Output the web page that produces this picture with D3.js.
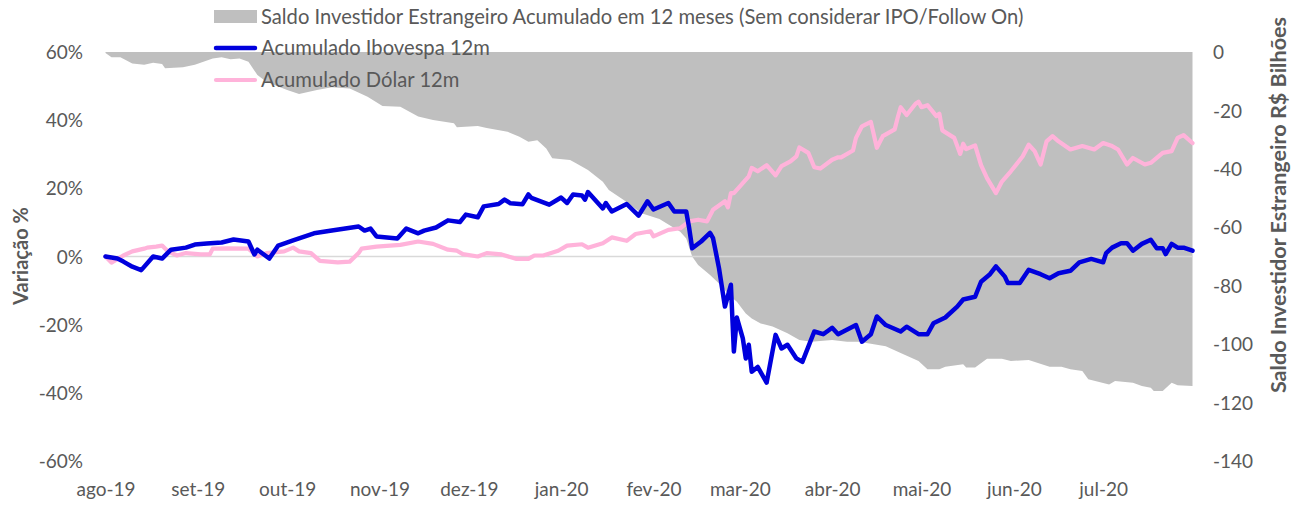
<!DOCTYPE html>
<html><head><meta charset="utf-8">
<script src="https://cdn.jsdelivr.net/npm/d3@7"></script>
<style>
body{margin:0;background:#fff}
svg{display:block}
text{font-family:Lato,'Open Sans',sans-serif;fill:#595959}
</style>
</head><body><svg id="c" width="1302" height="506"></svg>
<script>
// ---------- DATA ----------
const monthLabels = ["ago-19","set-19","out-19","nov-19","dez-19","jan-20","fev-20","mar-20","abr-20","mai-20","jun-20","jul-20"];
const monthDates = ["2019-08-01","2019-09-01","2019-10-01","2019-11-01","2019-12-01","2020-01-01","2020-02-01","2020-03-01","2020-04-01","2020-05-01","2020-06-01","2020-07-01"];
const leftTicks = [60,40,20,0,-20,-40,-60];
const rightTicks = [0,-20,-40,-60,-80,-100,-120,-140];

const seriesNames = ["Saldo Investidor Estrangeiro Acumulado em 12 meses (Sem considerar IPO/Follow On)","Acumulado Ibovespa 12m","Acumulado Dólar 12m"];

const ibovDates = ["2019-08-01","2019-08-05","2019-08-07","2019-08-10","2019-08-13","2019-08-17","2019-08-20","2019-08-23","2019-08-28","2019-08-31",
"2019-09-04","2019-09-09","2019-09-13","2019-09-18","2019-09-20","2019-09-21","2019-09-25","2019-09-28","2019-10-03","2019-10-10",
"2019-10-16","2019-10-25","2019-10-27","2019-10-29","2019-10-31","2019-11-07","2019-11-10","2019-11-14","2019-11-16","2019-11-20",
"2019-11-24","2019-11-28","2019-11-30","2019-12-04","2019-12-06","2019-12-11","2019-12-13","2019-12-15","2019-12-19","2019-12-21",
"2019-12-22","2019-12-28","2020-01-01","2020-01-03","2020-01-05","2020-01-08","2020-01-09","2020-01-10","2020-01-15","2020-01-16",
"2020-01-18","2020-01-23","2020-01-27","2020-01-30","2020-02-01","2020-02-06","2020-02-08","2020-02-12","2020-02-13","2020-02-14",
"2020-02-17","2020-02-20","2020-02-21","2020-02-23","2020-02-25","2020-02-27","2020-02-28","2020-02-29","2020-03-02","2020-03-03",
"2020-03-04","2020-03-05","2020-03-07","2020-03-10","2020-03-13","2020-03-15","2020-03-17","2020-03-20","2020-03-22","2020-03-26",
"2020-03-29","2020-04-01","2020-04-03","2020-04-09","2020-04-11","2020-04-14","2020-04-16","2020-04-19","2020-04-24","2020-04-26",
"2020-04-30","2020-05-03","2020-05-05","2020-05-09","2020-05-13","2020-05-15","2020-05-19","2020-05-21","2020-05-24","2020-05-26",
"2020-05-29","2020-05-30","2020-06-03","2020-06-06","2020-06-10","2020-06-13","2020-06-16","2020-06-20","2020-06-23","2020-06-25",
"2020-06-27","2020-07-01","2020-07-02","2020-07-04","2020-07-07","2020-07-09","2020-07-11","2020-07-14","2020-07-17","2020-07-19",
"2020-07-21","2020-07-22","2020-07-24","2020-07-26","2020-07-28","2020-07-31"];
const ibovValues = [0,-0.6,-1.5,-3,-4,0,-0.6,2,2.6,3.5,
3.8,4.1,5,4.4,0.6,2,-0.6,3.2,4.7,6.8,
7.6,8.8,7.6,8.2,5.9,5.3,8.2,6.8,7.6,8.5,
10.6,10.1,12.3,11.5,14.7,15.4,16.7,15.6,15.3,18.2,
17.2,15.2,17.3,15.7,18.2,17.9,16.7,18.9,14.1,15.7,
13.2,15.4,12,16.2,13.8,15.7,13.2,13.2,8.3,2.4,
4.4,6.9,5.4,-3.4,-14.7,-8.3,-27.9,-17.9,-24,-29.9,
-25.9,-33.8,-32.4,-37,-23,-27,-25.9,-29.9,-30.9,-22,
-22.8,-20.9,-22.8,-20.1,-25,-22.8,-17.6,-20.1,-22,-20.6,
-22.8,-22.8,-19.6,-17.9,-14.7,-12.6,-11.8,-7.4,-5.2,-2.9,
-5.9,-7.8,-7.8,-3.9,-5.2,-6.4,-4.9,-4.2,-1.7,-1.2,
-0.7,-1.7,1,2.6,3.9,3.9,1.7,3.7,4.9,2.4,
2.4,0.7,3.7,2.6,2.6,1.7];

const dolarDates = ["2019-08-01","2019-08-03","2019-08-07","2019-08-10","2019-08-14","2019-08-15","2019-08-18","2019-08-20","2019-08-22","2019-08-25",
"2019-08-28","2019-09-02","2019-09-05","2019-09-06","2019-09-11","2019-09-18","2019-09-21","2019-09-24","2019-09-30","2019-10-03",
"2019-10-05","2019-10-09","2019-10-12","2019-10-18","2019-10-22","2019-10-25","2019-10-26","2019-10-31","2019-11-08","2019-11-14",
"2019-11-19","2019-11-24","2019-11-27","2019-11-29","2019-12-04","2019-12-07","2019-12-12","2019-12-17","2019-12-21","2019-12-23",
"2019-12-26","2019-12-31","2020-01-03","2020-01-08","2020-01-10","2020-01-15","2020-01-18","2020-01-23","2020-01-26","2020-01-31",
"2020-02-01","2020-02-06","2020-02-10","2020-02-13","2020-02-16","2020-02-19","2020-02-21","2020-02-25","2020-02-26","2020-02-27",
"2020-02-28","2020-03-04","2020-03-05","2020-03-07","2020-03-10","2020-03-13","2020-03-15","2020-03-18","2020-03-20","2020-03-21",
"2020-03-24","2020-03-26","2020-03-28","2020-04-01","2020-04-03","2020-04-04","2020-04-08","2020-04-09","2020-04-11","2020-04-14",
"2020-04-16","2020-04-18","2020-04-22","2020-04-23","2020-04-24","2020-04-26","2020-04-29","2020-04-30","2020-05-01","2020-05-03",
"2020-05-06","2020-05-07","2020-05-08","2020-05-12","2020-05-14","2020-05-15","2020-05-16","2020-05-19","2020-05-21","2020-05-23",
"2020-05-26","2020-05-28","2020-05-31","2020-06-04","2020-06-06","2020-06-08","2020-06-10","2020-06-12","2020-06-14","2020-06-16",
"2020-06-20","2020-06-24","2020-06-28","2020-07-01","2020-07-04","2020-07-06","2020-07-09","2020-07-11","2020-07-15","2020-07-17",
"2020-07-21","2020-07-24","2020-07-26","2020-07-28","2020-07-31"];
const dolarValues = [0,-1.8,0.3,1.5,2.3,2.6,2.9,3.2,1.5,0.3,
1,0.6,0.6,2.3,2.4,2.3,0,1,1.5,2.6,
1.5,1,-1.3,-1.7,-1.5,1,2.3,2.9,3.4,4.4,
3.7,2,1.7,0.7,0,1,0.6,-0.7,-0.7,0.3,
0.3,1.7,3.2,3.6,2.6,3.9,5.6,4.6,6.6,7.4,
5.9,7.8,8.3,10.3,10.8,10.3,13.7,16.2,14.4,18.6,
18.6,23.5,26,25,26.8,23.8,26.5,27.9,29.4,32,
30.4,26.2,25.8,28.4,29.1,29.1,31.1,34.8,38.2,39.5,
31.9,35.3,37.3,40.7,43.8,41.5,44.8,45.4,43.8,44.4,
41.2,41.9,37,34.8,30.1,33.1,31.5,32.6,26.8,23,
18.6,22,25,29.4,32.8,30.9,27,33.8,35.3,33.8,
31.4,32.4,31.4,33.3,32.4,31.4,27,28.9,27,27.5,
30.4,30.9,34.8,35.6,33.3];

const saldoDates = ["2019-08-01","2019-08-03","2019-08-06","2019-08-10","2019-08-14","2019-08-17","2019-08-20","2019-08-21","2019-08-27","2019-08-31",
"2019-09-06","2019-09-09","2019-09-12","2019-09-15","2019-09-18","2019-09-21","2019-09-24","2019-10-01","2019-10-05","2019-10-11",
"2019-10-16","2019-10-22","2019-10-28","2019-11-02","2019-11-08","2019-11-14","2019-11-19","2019-11-26","2019-11-27","2019-12-04",
"2019-12-07","2019-12-14","2019-12-18","2019-12-21","2019-12-24","2019-12-27","2019-12-29","2020-01-04","2020-01-06","2020-01-10",
"2020-01-15","2020-01-17","2020-01-22","2020-01-28","2020-02-03","2020-02-10","2020-02-12","2020-02-14","2020-02-16","2020-02-20",
"2020-02-23","2020-02-27","2020-02-29","2020-03-03","2020-03-05","2020-03-08","2020-03-12","2020-03-17","2020-03-21","2020-03-25",
"2020-04-01","2020-04-06","2020-04-10","2020-04-15","2020-04-19","2020-04-24","2020-04-30","2020-05-03","2020-05-07","2020-05-09",
"2020-05-15","2020-05-16","2020-05-19","2020-05-23","2020-05-28","2020-05-31","2020-06-06","2020-06-13","2020-06-17","2020-06-20",
"2020-06-24","2020-06-26","2020-07-03","2020-07-05","2020-07-11","2020-07-14","2020-07-17","2020-07-18","2020-07-21","2020-07-24",
"2020-07-26","2020-07-31"];
const saldoValues = [-0.3,-1.8,-1.8,-3.9,-4.4,-3.7,-4.1,-5.6,-5.2,-4.4,
-2.2,-1.8,-2.5,-2.2,-3.3,-7.9,-10.2,-13,-14.4,-13,
-12.1,-12.5,-15.3,-18.5,-18.7,-22.1,-23.3,-24.4,-25.8,-25.3,
-26,-27.3,-29,-30.7,-30.2,-33,-36.4,-37,-38.1,-40.4,
-44.4,-47.2,-50.7,-55.2,-57.2,-61.5,-63.8,-70,-72.9,-76.3,
-79.2,-83.8,-85.5,-89.5,-91.2,-92.9,-94,-96.3,-98.6,-99.2,
-98.6,-99.2,-99.2,-100,-100.7,-103,-105.8,-108.6,-108.6,-107.7,
-106.9,-108,-108,-105,-105,-105.8,-105.4,-107.7,-107.7,-108.6,
-109.2,-112,-113.8,-112.6,-113.2,-114.3,-114.9,-116,-116,-113.2,
-114.1,-114.3];

// ---------- CHART ----------
const parse = d3.timeParse("%Y-%m-%d");
const svg = d3.select("#c");
const plot = {left:105.5, right:1192.5, top:52, bottom:461};

const x = d3.scaleTime().domain([parse("2019-08-01"), parse("2020-07-31")]).range([plot.left, plot.right]);
const yL = d3.scaleLinear().domain([-60,60]).range([plot.bottom, plot.top]);
const yR = d3.scaleLinear().domain([-140,0]).range([plot.bottom, plot.top]);

const saldo = saldoDates.map((d,i)=>({date:parse(d), v:saldoValues[i]}));
const ibov = ibovDates.map((d,i)=>({date:parse(d), v:ibovValues[i]}));
const dolar = dolarDates.map((d,i)=>({date:parse(d), v:dolarValues[i]}));

// area
svg.append("path").datum(saldo)
  .attr("fill","#bfbfbf")
  .attr("d", d3.area().x(d=>x(d.date)).y0(yR(0)).y1(d=>yR(d.v)));

// zero line
svg.append("line").attr("x1",plot.left).attr("x2",plot.right)
  .attr("y1",yL(0)).attr("y2",yL(0)).attr("stroke","#d9d9d9").attr("stroke-width",1.5);

const line = s => d3.line().x(d=>x(d.date)).y(d=>s(d.v));
svg.append("path").datum(dolar).attr("fill","none").attr("stroke","#ffb3da")
  .attr("stroke-width",4.2).attr("stroke-linejoin","round").attr("stroke-linecap","round")
  .attr("d", line(yL));
svg.append("path").datum(ibov).attr("fill","none").attr("stroke","#0000dd")
  .attr("stroke-width",4.5).attr("stroke-linejoin","round").attr("stroke-linecap","round")
  .attr("d", line(yL));

// axes
const fs = "19px";
const axL = svg.append("g").attr("transform",`translate(83,0)`)
  .call(d3.axisLeft(yL).tickValues(leftTicks).tickFormat(d=>d+"%").tickSize(0).tickPadding(0));
const axR = svg.append("g").attr("transform",`translate(1213,0)`)
  .call(d3.axisRight(yR).tickValues(rightTicks).tickFormat(d=>d).tickSize(0).tickPadding(0));
const axB = svg.append("g")
  .call(d3.axisBottom(x).tickValues(monthDates.map(parse)).tickFormat((d,i)=>monthLabels[i]).tickSize(0).tickPadding(0));
[axL,axR,axB].forEach(g=>{
  g.select(".domain").remove();
  g.attr("font-family",null).attr("font-size",null);
  g.selectAll("text").style("font-size",fs).attr("fill","#595959");
});
axB.selectAll("text").attr("dy",null).attr("y",496);
axL.selectAll("text").attr("dy","0.35em");
axR.selectAll("text").attr("dy","0.35em");

// axis titles
svg.append("text").attr("transform","translate(28,256) rotate(-90)")
  .attr("text-anchor","middle").style("font-size","20px").style("font-weight","bold")
  .text("Variação %");
svg.append("text").attr("transform","translate(1286,205) rotate(-90)")
  .attr("text-anchor","middle").style("font-size","21.6px").style("font-weight","bold")
  .text("Saldo Investidor Estrangeiro R$ Bilhões");

// legend
const lg = svg.append("g");
lg.append("rect").attr("x",214).attr("y",10).attr("width",43).attr("height",13).attr("fill","#bfbfbf");
lg.append("line").attr("x1",216).attr("x2",255).attr("y1",48).attr("y2",48).attr("stroke","#0000dd").attr("stroke-width",4.5).attr("stroke-linecap","round");
lg.append("line").attr("x1",216).attr("x2",255).attr("y1",80).attr("y2",80).attr("stroke","#ffb3da").attr("stroke-width",4.2).attr("stroke-linecap","round");
[23.5,55,87].forEach((yy,i)=>{
  lg.append("text").attr("x",261).attr("y",yy).style("font-size","20.2px").text(seriesNames[i]);
});
</script></body></html>
